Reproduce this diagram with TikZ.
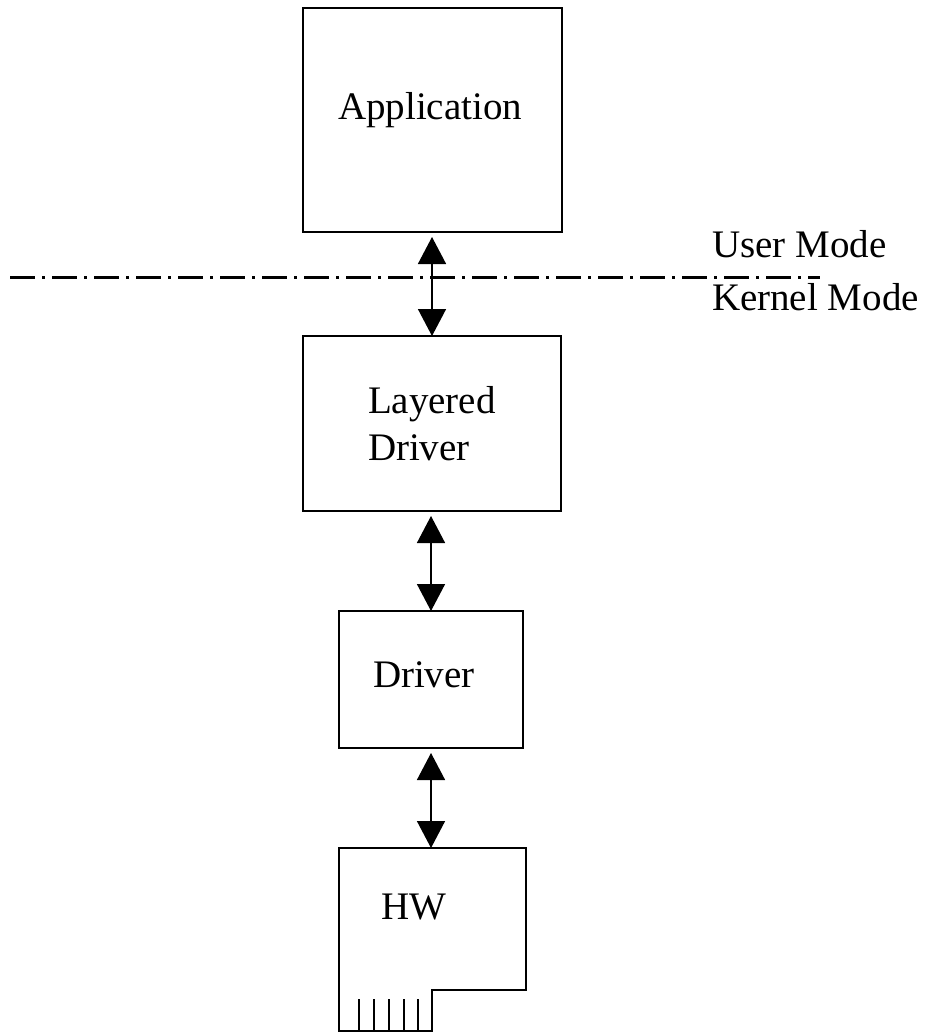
\documentclass[tikz,border=0pt]{standalone}
\usepackage{fontspec}
\setmainfont{Liberation Serif}
\usetikzlibrary{arrows.meta}
\begin{document}
\begin{tikzpicture}[x=1pt,y=-1pt,
  box/.style={draw=black,line width=2pt,minimum width=#1,inner sep=0pt,outer sep=0pt},
  txt/.style={anchor=base west,inner sep=0pt,outer sep=0pt,font=\fontsize{39pt}{47pt}\selectfont},
  link/.style={line width=1.5pt,{Triangle[width=28pt,length=27pt]}-{Triangle[width=28pt,length=27pt]},shorten <=5pt},
  modeline/.style={line width=3pt,dash pattern=on 25pt off 7pt on 3pt off 7pt}]
\useasboundingbox[fill=white] (0,0) rectangle (924,1032);
% boxes
\node[box=259pt,minimum height=224pt] (app) at (432,120) {};
\node[box=258pt,minimum height=175pt] (lay) at (432,423.5) {};
\node[box=184pt,minimum height=137pt] (drv) at (431,679.5) {};
\node[minimum width=187pt,minimum height=142pt,inner sep=0pt,outer sep=0pt] (hw) at (432.5,919) {};
\draw[line width=2pt] (hw.north west) -- (hw.north east) -- (hw.south east) -- (432,990) -- (432,1031) -- (339,1031) -- cycle;
\foreach \t in {359,374,389,404,418} \draw[line width=2pt] (\t,999) -- (\t,1031);
% texts
\node[txt] (tapp) at (338,120) {Application};
\node[txt] (tlay1) at (368,413) {Layered};
\node[txt] (tlay2) at (368,460) {Driver};
\node[txt] (tdrv) at (373,687) {Driver};
\node[txt] (thw) at (381,919) {HW};
\node[txt] (tuser) at (712,257) {User Mode};
\node[txt] (tkern) at (712,310) {Kernel Mode};
% mode line
\coordinate (ml) at (10,277);
\coordinate (mr) at (820,277);
\draw[modeline] (ml) -- (mr);
% arrows
\draw[link] (app.south) -- (lay.north);
\draw[link] (lay.south -| drv.north) -- (drv.north);
\draw[link] (drv.south) -- (drv.south |- hw.north);
\end{tikzpicture}
\end{document}
